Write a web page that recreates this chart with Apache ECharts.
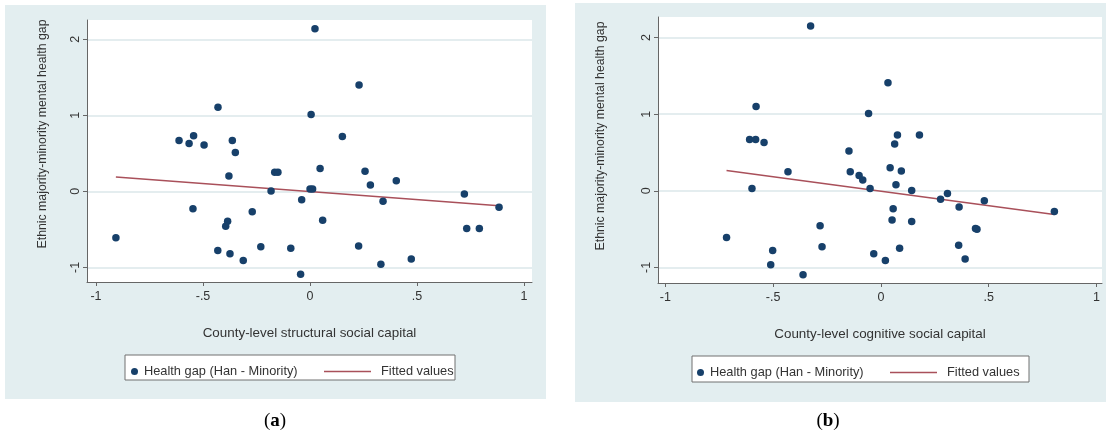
<!DOCTYPE html>
<html><head><meta charset="utf-8">
<script src="https://cdn.jsdelivr.net/npm/echarts@6/dist/echarts.min.js"></script>
<style>html,body{margin:0;padding:0;background:#fff}#c{width:1108px;height:437px}</style>
</head><body><div id="c"></div>
<script>
// Panel (a): county-level structural social capital vs health gap
const structX = [0.023,-0.43,0.005,-0.612,-0.544,-0.565,-0.495,-0.363,-0.349,-0.379,-0.165,-0.15,0.047,-0.182,0.0,0.012,-0.039,-0.547,-0.27,-0.385,-0.394,0.059,-0.907,-0.431,-0.374,-0.23,-0.09,-0.312,-0.044,0.151,0.229,0.257,0.282,0.403,0.721,0.341,0.883,0.732,0.791,0.227,0.473,0.331];
const structY = [2.14,1.105,1.01,0.67,0.73,0.63,0.61,0.67,0.51,0.20,0.25,0.25,0.30,0.004,0.03,0.03,-0.11,-0.23,-0.27,-0.395,-0.46,-0.38,-0.61,-0.78,-0.82,-0.73,-0.75,-0.91,-1.09,0.72,1.40,0.263,0.083,0.14,-0.035,-0.13,-0.21,-0.49,-0.49,-0.72,-0.89,-0.96];
const structFitX = [-0.907, 0.883];
const structFitY = [0.188, -0.19];
// Panel (b): county-level cognitive social capital vs health gap
const cogX = [-0.326,-0.579,-0.057,-0.609,-0.581,-0.542,-0.148,-0.431,-0.142,-0.101,-0.084,-0.05,-0.598,-0.282,-0.273,-0.716,-0.502,-0.511,-0.361,-0.033,0.033,0.077,0.179,0.064,0.043,0.095,0.07,0.143,0.277,0.309,0.48,0.363,0.805,0.057,0.052,0.143,0.439,0.446,0.361,0.087,0.391,0.021];
const cogY = [2.15,1.10,1.01,0.67,0.67,0.63,0.52,0.25,0.25,0.20,0.14,0.03,0.03,-0.456,-0.73,-0.61,-0.78,-0.965,-1.095,-0.82,1.41,0.73,0.73,0.61,0.30,0.26,0.08,0.004,-0.11,-0.035,-0.13,-0.21,-0.27,-0.235,-0.38,-0.40,-0.49,-0.50,-0.71,-0.75,-0.89,-0.91];
const cogFitX = [-0.716, 0.805];
const cogFitY = [0.265, -0.31];
// Tick labels
const xTicks = [-1, -0.5, 0, 0.5, 1];
const yTicks = [-1, 0, 1, 2];
const scatterName = 'Health gap (Han - Minority)';
const fitName = 'Fitted values';
const xTitleA = 'County-level structural social capital';
const xTitleB = 'County-level cognitive social capital';
const yTitle = 'Ethnic majority-minority mental health gap';

const FONT = '"Liberation Sans", Arial, sans-serif';
const fmt = v => v === 0 ? '0' : (v < 0 ? '-' : '') + String(Math.abs(v)).replace(/^0\./, '.');
const zip = (a, b) => a.map((v, i) => [v, b[i]]);

function xAxis(gi, min, max, title) {
  return {
    type: 'value', gridIndex: gi, min, max,
    axisLine: {show: true, onZero: false, lineStyle: {color: '#666', width: 1}},
    axisTick: {show: true, customValues: xTicks, length: 4, lineStyle: {color: '#666'}},
    axisLabel: {customValues: xTicks, formatter: fmt, color: '#333', fontSize: 12.5, fontFamily: FONT, margin: 8},
    splitLine: {show: false},
    name: title, nameLocation: 'middle', nameGap: 45,
    nameTextStyle: {color: '#333', fontSize: 13.4, fontFamily: FONT}
  };
}
function yAxis(gi, min, max) {
  return {
    type: 'value', gridIndex: gi, min, max,
    axisLine: {show: true, onZero: false, lineStyle: {color: '#666', width: 1}},
    axisTick: {show: true, customValues: yTicks, length: 4, lineStyle: {color: '#666'}},
    axisLabel: {customValues: yTicks, formatter: fmt, color: '#333', fontSize: 12.5, fontFamily: FONT, rotate: 90, margin: 5},
    splitLine: {show: true, lineStyle: {color: '#e4edef', width: 2}}
  };
}

const legText = {color: '#333', fontSize: 12.8, fontFamily: FONT};
const chart = echarts.init(document.getElementById('c'), null, {renderer: 'canvas'});
chart.setOption({
  backgroundColor: '#ffffff',
  animation: false,
  grid: [
    {left: 87, top: 20, width: 445, height: 262, show: true, backgroundColor: '#ffffff', borderWidth: 0, z: 0},
    {left: 658, top: 17, width: 444, height: 266, show: true, backgroundColor: '#ffffff', borderWidth: 0, z: 0}
  ],
  xAxis: [xAxis(0, -1.042, 1.037, xTitleA), xAxis(1, -1.034, 1.026, xTitleB)],
  yAxis: [yAxis(0, -1.193, 2.254), yAxis(1, -1.203, 2.269)],
  legend: [
    {left: 126, top: 360, icon: 'circle', itemWidth: 7, itemHeight: 7, itemGap: 0, data: [scatterName],
      textStyle: Object.assign({padding: [0, 0, 0, 1]}, legText), selectedMode: false},
    {left: 319, top: 360, icon: 'rect', itemWidth: 47, itemHeight: 1.5, data: [fitName],
      textStyle: Object.assign({padding: [0, 0, 0, 5]}, legText), selectedMode: false},
    {left: 692, top: 361, icon: 'circle', itemWidth: 7, itemHeight: 7, itemGap: 0, data: [scatterName],
      textStyle: Object.assign({padding: [0, 0, 0, 1]}, legText), selectedMode: false},
    {left: 885, top: 361, icon: 'rect', itemWidth: 47, itemHeight: 1.5, data: [fitName],
      textStyle: Object.assign({padding: [0, 0, 0, 5]}, legText), selectedMode: false}
  ],
  series: [
    {name: scatterName, type: 'scatter', xAxisIndex: 0, yAxisIndex: 0, symbolSize: 7.5,
      itemStyle: {color: '#17406a', opacity: 1}, data: zip(structX, structY), z: 4},
    {name: fitName, type: 'line', xAxisIndex: 0, yAxisIndex: 0, symbol: 'none',
      lineStyle: {color: '#a9505a', width: 1.5}, itemStyle: {color: '#a9505a'}, data: zip(structFitX, structFitY), z: 3},
    {name: scatterName, type: 'scatter', xAxisIndex: 1, yAxisIndex: 1, symbolSize: 7.5,
      itemStyle: {color: '#17406a', opacity: 1}, data: zip(cogX, cogY), z: 4},
    {name: fitName, type: 'line', xAxisIndex: 1, yAxisIndex: 1, symbol: 'none',
      lineStyle: {color: '#a9505a', width: 1.5}, itemStyle: {color: '#a9505a'}, data: zip(cogFitX, cogFitY), z: 3}
  ],
  graphic: [
    {type: 'rect', shape: {x: 5, y: 5, width: 541, height: 394}, style: {fill: '#e3eef0'}, z: -10, silent: true},
    {type: 'rect', shape: {x: 575, y: 3, width: 531, height: 399}, style: {fill: '#e3eef0'}, z: -10, silent: true},
    {type: 'rect', shape: {x: 125, y: 355, width: 330, height: 25}, style: {fill: '#ffffff', stroke: '#707070', lineWidth: 1}, z: 0, silent: true},
    {type: 'rect', shape: {x: 692, y: 356, width: 337, height: 26}, style: {fill: '#ffffff', stroke: '#707070', lineWidth: 1}, z: 0, silent: true},
    {type: 'text', x: 43, y: 134, rotation: Math.PI / 2, style: {text: yTitle, fill: '#333', font: '12.3px ' + FONT, align: 'center', verticalAlign: 'middle'}, z: 5},
    {type: 'text', x: 601, y: 136, rotation: Math.PI / 2, style: {text: yTitle, fill: '#333', font: '12.3px ' + FONT, align: 'center', verticalAlign: 'middle'}, z: 5},
    {type: 'text', x: 275, y: 421, style: {text: '{p|(}{b|a}{p|)}', align: 'center', verticalAlign: 'middle',
      rich: {p: {font: '19px "Liberation Serif", serif', fill: '#000'}, b: {font: 'bold 19px "Liberation Serif", serif', fill: '#000'}}}, z: 5},
    {type: 'text', x: 828, y: 421, style: {text: '{p|(}{b|b}{p|)}', align: 'center', verticalAlign: 'middle',
      rich: {p: {font: '19px "Liberation Serif", serif', fill: '#000'}, b: {font: 'bold 19px "Liberation Serif", serif', fill: '#000'}}}, z: 5}
  ]
});
</script></body></html>
